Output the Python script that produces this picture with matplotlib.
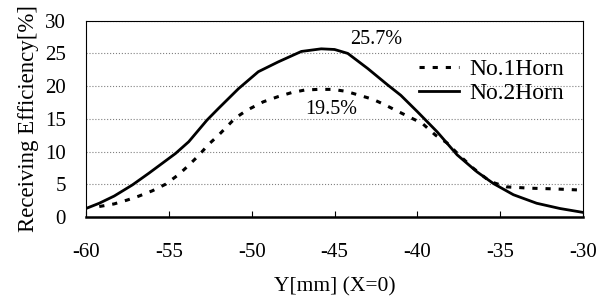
import numpy as np
import matplotlib.pyplot as plt

plt.rcParams['font.family'] = ['Liberation Serif', 'DejaVu Serif']
plt.rcParams['font.size'] = 15
plt.rcParams['axes.unicode_minus'] = False

# data
y_horn2 = [-60, -59.2, -58.3, -57.2, -56.2, -55.4, -54.6, -53.8, -53.2, -52.7, -52.0,
           -51.4, -50.8, -50.2, -49.6, -48.4, -47.0, -45.8, -45.0, -44.2, -43.0,
           -41.8, -41.0, -40.0, -38.8, -37.6, -36.4, -35.4, -34.2, -32.8, -31.4, -30]
eff_horn2 = [1.3, 2.1, 3.2, 4.9, 6.7, 8.2, 9.7, 11.5, 13.3, 14.8, 16.6,
             18.1, 19.6, 20.9, 22.2, 23.7, 25.3, 25.7, 25.6, 25.0, 22.7,
             20.2, 18.6, 16.1, 13.0, 9.5, 6.9, 5.1, 3.4, 2.1, 1.3, 0.7]

y_horn1 = [-59.2, -58.3, -57.5, -56.8, -56.0, -55.2, -54.4, -53.8, -53.2, -52.6, -52.0,
           -51.5, -51.0, -50.3, -49.3, -48.4, -47.6, -46.8, -46.0, -45.1, -44.3,
           -43.5, -42.7, -42.0, -41.3, -40.5, -39.7, -38.9, -38.2, -37.5, -36.6,
           -35.6, -34.6, -33.2, -31.8, -30.0]
eff_horn1 = [1.6, 2.0, 2.6, 3.2, 4.0, 5.0, 6.5, 7.9, 9.4, 11.1, 12.5,
             13.8, 15.1, 16.3, 17.6, 18.4, 19.0, 19.4, 19.5, 19.5, 19.2,
             18.6, 18.0, 17.2, 16.3, 15.3, 14.3, 12.5, 11.3, 9.5, 7.4,
             5.4, 4.6, 4.4, 4.3, 4.1]

peak_labels = ['25.7%', '19.5%']
peak_pos = [(-42.5, 27.2), (-45.2, 16.5)]

fig = plt.figure(figsize=(5.99, 3.02), dpi=100)
ax = fig.add_axes([0.1436, 0.2815, 0.8297, 0.65])

ax.plot(y_horn1, eff_horn1, color='black', lw=2.2, linestyle=(0, (1.7, 2.6)), label='No.1Horn')
ax.plot(y_horn2, eff_horn2, color='black', lw=2.0, label='No.2Horn')

for txt, (px, py) in zip(peak_labels, peak_pos):
    ax.text(px, py, txt, ha='center', va='center', fontsize=14.5)

ax.set_xlim(-60, -30)
ax.set_ylim(0, 30)
ax.set_xticks(np.arange(-60, -29, 5))
ax.set_yticks(np.arange(0, 31, 5))
ax.yaxis.grid(True, color='gray', linestyle=':', linewidth=0.8)
ax.tick_params(axis='x', direction='in', length=4, pad=19, labelsize=15)
ax.tick_params(axis='y', length=0, pad=14.5, labelsize=15)
for s in ['left', 'right', 'top']:
    ax.spines[s].set_linewidth(0.8)
ax.spines['bottom'].set_linewidth(1.8)

ax.set_xlabel('Y[mm] (X=0)', fontsize=15.5, labelpad=11)
ax.set_ylabel('Receiving Efficiency[%]', fontsize=16.5, labelpad=4)

ax.legend(loc='upper left', bbox_to_anchor=(0.669, 0.805), frameon=False, fontsize=17,
          handlelength=1.7, handletextpad=0.45, labelspacing=0.08, borderaxespad=0,
          borderpad=0)

fig.savefig('out.png', dpi=100)
